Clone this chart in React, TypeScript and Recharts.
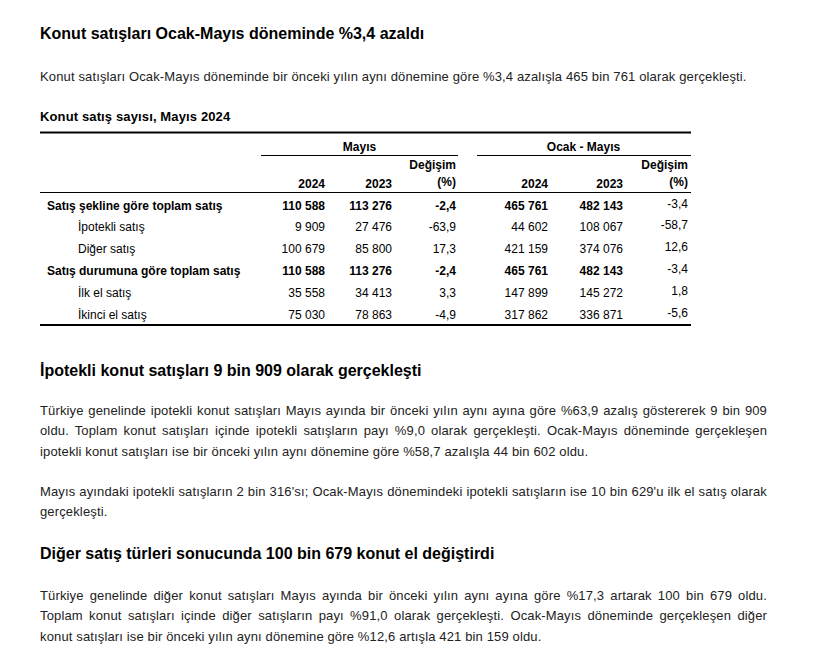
import React from "react";
import { Surface, Text } from "recharts";

// table content
const rowLabels = [
  "Satış şekline göre toplam satış",
  "İpotekli satış",
  "Diğer satış",
  "Satış durumuna göre toplam satış",
  "İlk el satış",
  "İkinci el satış",
];
const rowIsTotal = [true, false, false, true, false, false];
const mayis2024 = ["110 588", "9 909", "100 679", "110 588", "35 558", "75 030"];
const mayis2023 = ["113 276", "27 476", "85 800", "113 276", "34 413", "78 863"];
const mayisChange = ["-2,4", "-63,9", "17,3", "-2,4", "3,3", "-4,9"];
const ocak2024 = ["465 761", "44 602", "421 159", "465 761", "147 899", "317 862"];
const ocak2023 = ["482 143", "108 067", "374 076", "482 143", "145 272", "336 871"];
const ocakChange = ["-3,4", "-58,7", "12,6", "-3,4", "1,8", "-5,6"];

const groupLabels = ["Mayıs", "Ocak - Mayıs"];
const yearLabels = ["2024", "2023"];
const changeLabel = ["Değişim", "(%)"];

// text blocks (one entry per rendered line)
const title = "Konut satışları Ocak-Mayıs döneminde %3,4 azaldı";
const intro = "Konut satışları Ocak-Mayıs döneminde bir önceki yılın aynı dönemine göre %3,4 azalışla 465 bin 761 olarak gerçekleşti.";
const tableTitle = "Konut satış sayısı, Mayıs 2024";
const heading2 = "İpotekli konut satışları 9 bin 909 olarak gerçekleşti";
const para2 = [
  "Türkiye genelinde ipotekli konut satışları Mayıs ayında bir önceki yılın aynı ayına göre %63,9 azalış göstererek 9 bin 909",
  "oldu. Toplam konut satışları içinde ipotekli satışların payı %9,0 olarak gerçekleşti. Ocak-Mayıs döneminde gerçekleşen",
  "ipotekli konut satışları ise bir önceki yılın aynı dönemine göre %58,7 azalışla 44 bin 602 oldu.",
];
const para3 = [
  "Mayıs ayındaki ipotekli satışların 2 bin 316'sı; Ocak-Mayıs dönemindeki ipotekli satışların ise 10 bin 629'u ilk el satış olarak",
  "gerçekleşti.",
];
const heading3 = "Diğer satış türleri sonucunda 100 bin 679 konut el değiştirdi";
const para4 = [
  "Türkiye genelinde diğer konut satışları Mayıs ayında bir önceki yılın aynı ayına göre %17,3 artarak 100 bin 679 oldu.",
  "Toplam konut satışları içinde diğer satışların payı %91,0 olarak gerçekleşti. Ocak-Mayıs döneminde gerçekleşen diğer",
  "konut satışları ise bir önceki yılın aynı dönemine göre %12,6 artışla 421 bin 159 oldu.",
];

const FONT = '"Liberation Sans", Arial, sans-serif';
const LEFT = 40;
const TEXT_W = 727;

function Heading({ top, children }: { top: number; children: React.ReactNode }) {
  return (
    <div style={{ position: "absolute", left: LEFT, top, fontSize: 16, fontWeight: 700, lineHeight: "20px", color: "#000", whiteSpace: "nowrap" }}>
      {children}
    </div>
  );
}

function Para({ top, lines }: { top: number; lines: string[] }) {
  return (
    <div style={{ position: "absolute", left: LEFT, top, width: TEXT_W, fontSize: 13, lineHeight: "20.5px", color: "#222", letterSpacing: 0.14 }}>
      {lines.map((l, i) => (
        <div
          key={i}
          style={{
            whiteSpace: "nowrap",
            textAlign: i < lines.length - 1 ? "justify" : "left",
            textAlignLast: i < lines.length - 1 ? "justify" : "left",
          }}
        >
          {l}
        </div>
      ))}
    </div>
  );
}

function SalesTable() {
  const colRight = [325, 392, 456, 548, 623, 688];
  const rowY0 = 209.5;
  const rowStep = 21.9;
  const columns = [mayis2024, mayis2023, mayisChange, ocak2024, ocak2023, ocakChange];
  const cell = { fontFamily: FONT, fontSize: 12, fill: "#000" };
  return (
    <Surface width={819} height={650} style={{ position: "absolute", left: 0, top: 0 }}>
      <line x1={40} x2={691} y1={132.5} y2={132.5} stroke="#000" strokeWidth={2} />
      <line x1={261} x2={458} y1={155.5} y2={155.5} stroke="#000" strokeWidth={1} />
      <line x1={477} x2={691} y1={155.5} y2={155.5} stroke="#000" strokeWidth={1} />
      <line x1={40} x2={691} y1={192.5} y2={192.5} stroke="#000" strokeWidth={1} />
      <line x1={40} x2={691} y1={325} y2={325} stroke="#000" strokeWidth={2} />

      <Text x={359.5} y={150.5} textAnchor="middle" {...cell} fontWeight={700}>{groupLabels[0]}</Text>
      <Text x={583.5} y={150.5} textAnchor="middle" {...cell} fontWeight={700}>{groupLabels[1]}</Text>
      {[2, 5].map((c) => (
        <g key={c}>
          <Text x={colRight[c]} y={168.5} textAnchor="end" {...cell} fontWeight={700}>{changeLabel[0]}</Text>
          <Text x={colRight[c]} y={185.5} textAnchor="end" {...cell} fontWeight={700}>{changeLabel[1]}</Text>
        </g>
      ))}
      {[0, 1, 3, 4].map((c) => (
        <Text key={c} x={colRight[c]} y={187.5} textAnchor="end" {...cell} fontWeight={700}>
          {yearLabels[c % 3]}
        </Text>
      ))}

      {rowLabels.map((label, r) => {
        const y = rowY0 + r * rowStep;
        const bold = rowIsTotal[r];
        return (
          <g key={label}>
            <Text x={bold ? 47 : 78} y={y} {...cell} fontWeight={bold ? 700 : 400}>{label}</Text>
            {columns.map((col, c) => (
              <Text
                key={c}
                x={colRight[c]}
                y={c === 5 ? y - 2 : y}
                textAnchor="end"
                {...cell}
                fontWeight={bold && c !== 5 ? 700 : 400}
              >
                {col[r]}
              </Text>
            ))}
          </g>
        );
      })}
    </Surface>
  );
}

export default function App() {
  return (
    <div style={{ position: "absolute", left: 0, top: 0, width: 819, height: 650, background: "#fff", fontFamily: FONT, overflow: "hidden" }}>
      <Heading top={24}>{title}</Heading>
      <div style={{ position: "absolute", left: LEFT, top: 67, fontSize: 13, lineHeight: "20px", color: "#222", whiteSpace: "nowrap", letterSpacing: 0.14 }}>
        {intro}
      </div>
      <div style={{ position: "absolute", left: LEFT, top: 107, fontSize: 13, fontWeight: 700, lineHeight: "20px", color: "#000", letterSpacing: 0.13 }}>
        {tableTitle}
      </div>
      <SalesTable />
      <Heading top={361}>{heading2}</Heading>
      <Para top={400.5} lines={para2} />
      <Para top={481.5} lines={para3} />
      <Heading top={543.5}>{heading3}</Heading>
      <Para top={585.5} lines={para4} />
    </div>
  );
}
